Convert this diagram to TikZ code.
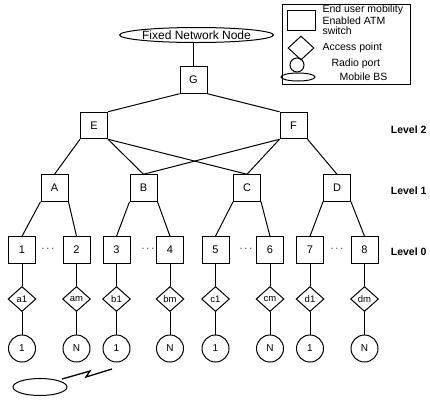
\documentclass[tikz,border=0pt]{standalone}
\usepackage{fontspec}
\setmainfont{Liberation Sans}
\usetikzlibrary{shapes.geometric}
\begin{document}
\begin{tikzpicture}[x=1pt,y=-1pt, line width=1pt,
 sw/.style={draw, minimum width=27pt, minimum height=26.5pt, inner sep=0pt, font=\fontsize{11}{13}\selectfont},
 ap/.style={draw, diamond, minimum width=28pt, minimum height=25pt, inner sep=0pt, font=\fontsize{9.5}{11}\selectfont},
 rp/.style={draw, circle, minimum size=27pt, inner sep=0pt, font=\fontsize{10}{12}\selectfont},
 lvl/.style={anchor=west, font=\fontsize{10.5}{12}\selectfont\bfseries},
 lg/.style={anchor=west, inner sep=0pt, font=\fontsize{10.5}{11}\selectfont},
 ellip/.style={inner sep=0pt, font=\fontsize{11}{12}\selectfont}]
\useasboundingbox (0,0) rectangle (430,400);

% top
\node[draw, ellipse, minimum width=137pt, minimum height=15pt, inner sep=0pt, font=\fontsize{12}{14}\selectfont] (fnn) at (196.5,35) {Fixed Network Node};
\node[sw] (G) at (193.5,80) {G};
\node[sw] (E) at (94,125.5) {E};
\node[sw] (F) at (293.5,125.5) {F};
\node[sw] (A) at (54.5,188) {A};
\node[sw] (B) at (143.5,188) {B};
\node[sw] (C) at (247,188) {C};
\node[sw] (D) at (337,188) {D};

\draw (fnn.south -| G.north) -- (G.north);
\draw (G.south west) -- (E.north east);
\draw (G.south east) -- (F.north west);
\draw (E.south west) -- (A.north);
\draw (E.south east) -- (B.north);
\draw (E.south east) -- (C.north);
\draw (F.south west) -- (B.north);
\draw (F.south west) -- (C.north);
\draw (F.south east) -- (D.north);

% level 0
\foreach \i/\x/\a/\c in {1/22/a1/1, 2/76.5/am/N, 3/116.5/b1/1, 4/170/bm/N, 5/215.5/c1/1, 6/270/cm/N, 7/310/d1/1, 8/364.5/dm/N} {
  \node[sw] (n\i) at (\x,250) {\i};
  \node[ap] (p\i) at (\x,299) {\a};
  \node[rp] (r\i) at (\x,348.5) {\c};
  \draw (n\i) -- (p\i) -- (r\i);
}
\draw (A.south west) -- (n1.north);
\draw (A.south east) -- (n2.north);
\draw (B.south west) -- (n3.north);
\draw (B.south east) -- (n4.north);
\draw (C.south west) -- (n5.north);
\draw (C.south east) -- (n6.north);
\draw (D.south west) -- (n7.north);
\draw (D.south east) -- (n8.north);

\node[ellip] (d12) at (48,249) {$\cdots$};
\node[ellip] (d34) at (148,249) {$\cdots$};
\node[ellip] (d56) at (246,249) {$\cdots$};
\node[ellip] (d78) at (337,249) {$\cdots$};

% level labels
\node[lvl] (L2) at (387,130) {Level 2};
\node[lvl] (L1) at (387,191) {Level 1};
\node[lvl] (L0) at (387,252) {Level 0};

% mobile BS
\node[draw, ellipse, minimum width=54pt, minimum height=17pt, inner sep=0pt] (mbs) at (40,387) {};
\coordinate (z1) at (62,379);
\coordinate (z2) at (90,371);
\coordinate (z3) at (86,377);
\coordinate (z4) at (112,369);
\draw[line width=1.3pt, line join=miter] (z1) -- (z2) -- (z3) -- (z4);

% legend
\node[draw, minimum width=128pt, minimum height=80pt, inner sep=0pt] (leg) at (346,44) {};
\node[draw, minimum width=28pt, minimum height=20pt, inner sep=0pt] (lsq) at (301,20) {};
\node[draw, diamond, minimum width=26pt, minimum height=24pt, inner sep=0pt] (ldi) at (301,48) {};
\node[draw, circle, minimum size=14pt, inner sep=0pt] (lci) at (297,65) {};
\node[draw, ellipse, minimum width=34pt, minimum height=8pt, inner sep=0pt] (lel) at (298,77) {};
\node[lg] (t1) at (322,10) {End user mobility};
\node[lg] (t2) at (322,20.5) {Enabled ATM};
\node[lg] (t3) at (322,31) {switch};
\node[lg] (t4) at (322,48) {Access point};
\node[lg] (t5) at (331,64) {Radio port};
\node[lg] (t6) at (339,77) {Mobile BS};
\end{tikzpicture}
\end{document}
